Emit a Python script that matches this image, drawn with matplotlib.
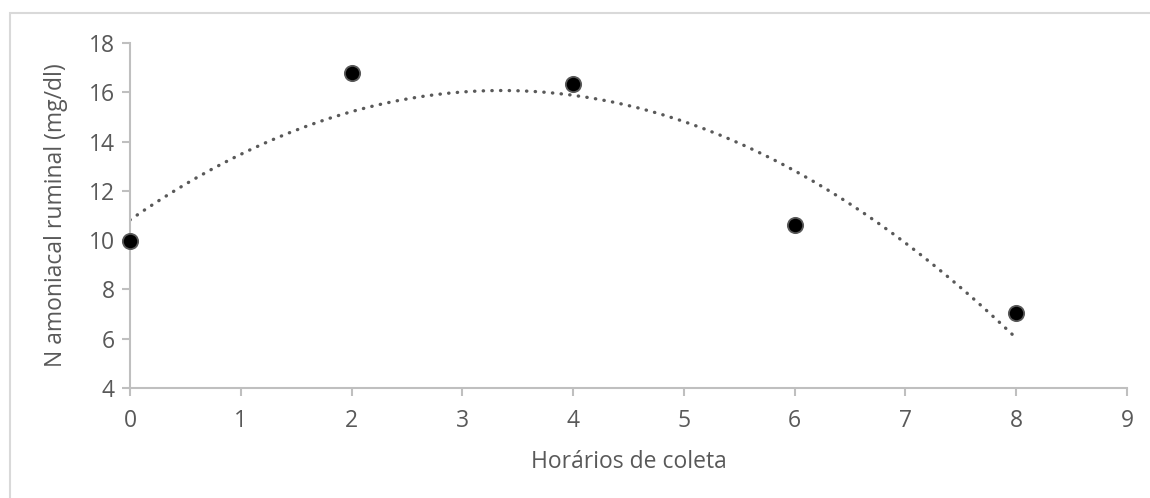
import numpy as np
from matplotlib import pyplot as plt
from matplotlib.patches import Rectangle

# sampling times (h) and ruminal ammonia N (mg/dl)
horarios = [0, 2, 4, 6, 8]
n_amoniacal = [9.95, 16.8, 16.35, 10.6, 7.05]

x_ticks = [0, 1, 2, 3, 4, 5, 6, 7, 8, 9]
y_ticks = [4, 6, 8, 10, 12, 14, 16, 18]

text_color = '#595959'
axis_color = '#bfbfbf'

plt.rcParams['font.family'] = ['Open Sans', 'DejaVu Sans']

fig = plt.figure(figsize=(11.5, 4.98), dpi=100)

# chart area border, like the Excel chart frame
fig.patches.append(Rectangle((10 / 1150, -0.1), 1.2, 1.1 - 13 / 498,
                             transform=fig.transFigure, fill=False,
                             edgecolor='#d9d9d9', linewidth=1.5))

ax = fig.add_axes([130 / 1150, 1 - 388 / 498, (1127 - 130) / 1150, (388 - 43) / 498])

# polynomial (order 2) trendline
coef = np.polyfit(horarios, n_amoniacal, 2)
xs = np.linspace(min(horarios), max(horarios), 200)
ax.plot(xs, np.polyval(coef, xs), color=text_color, linewidth=2.4,
        linestyle=(0, (0.1, 2.5)), dash_capstyle='round', zorder=2)

ax.plot(horarios, n_amoniacal, 'o', color='black', markersize=11,
        markeredgecolor='#595959', markeredgewidth=1.3, zorder=3, clip_on=False)

ax.set_xlim(0, 9)
ax.set_ylim(4, 18)
ax.set_xticks(x_ticks)
ax.set_yticks(y_ticks)

for side in ['top', 'right']:
    ax.spines[side].set_visible(False)
for side in ['left', 'bottom']:
    ax.spines[side].set_color(axis_color)
    ax.spines[side].set_linewidth(1.5)

ax.tick_params(axis='both', colors=axis_color, width=1.5, length=6,
               labelcolor=text_color, labelsize=16.5)
ax.tick_params(axis='x', pad=9)
ax.tick_params(axis='y', pad=5)

ax.set_xlabel('Horários de coleta', color=text_color, fontsize=16.5, labelpad=12)
ax.set_ylabel('N amoniacal ruminal (mg/dl)', color=text_color, fontsize=16.5, labelpad=15)

fig.savefig('out.png', dpi=100)
